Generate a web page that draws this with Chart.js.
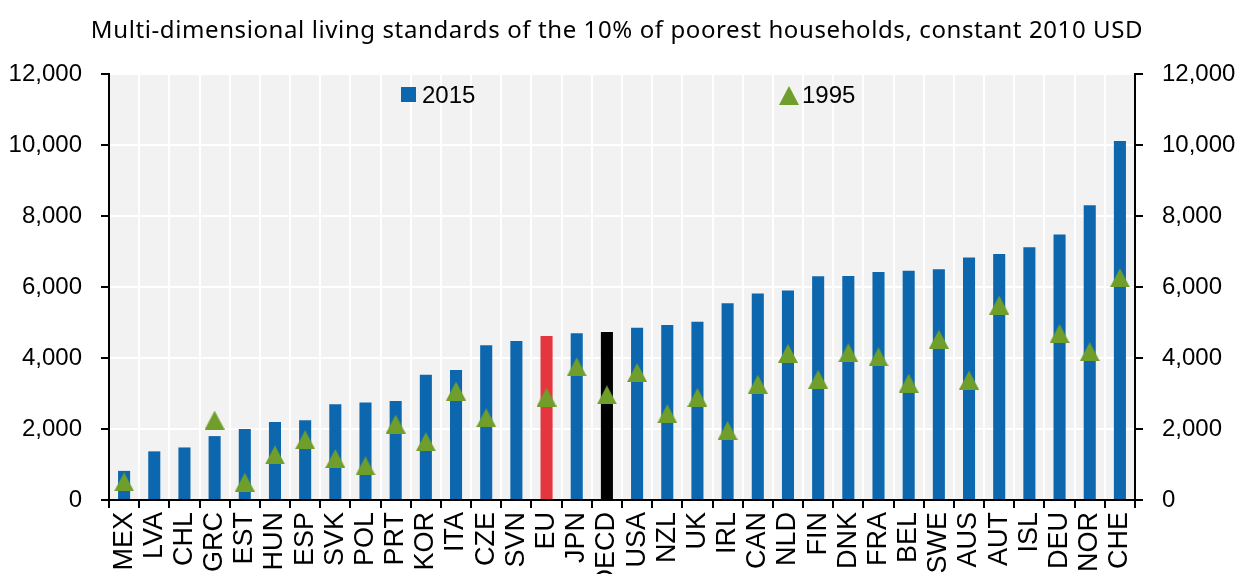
<!DOCTYPE html>
<html>
<head>
<meta charset="utf-8">
<script src="https://cdn.jsdelivr.net/npm/chart.js@4.4.1/dist/chart.umd.min.js"></script>
<style>
  html, body { margin: 0; padding: 0; background: #fff; }
  #wrap { width: 1237px; height: 574px; }
</style>
</head>
<body>
<div id="wrap"><canvas id="myChart" width="1237" height="574"></canvas></div>
<script>
// data
const countries = ['MEX', 'LVA', 'CHL', 'GRC', 'EST', 'HUN', 'ESP', 'SVK', 'POL', 'PRT', 'KOR', 'ITA', 'CZE', 'SVN', 'EU',
    'JPN', 'OECD', 'USA', 'NZL', 'UK', 'IRL', 'CAN', 'NLD', 'FIN', 'DNK', 'FRA', 'BEL', 'SWE', 'AUS', 'AUT', 'ISL', 'DEU', 'NOR', 'CHE'];
const values2015 = [820, 1370, 1480, 1800, 2000, 2200, 2250, 2700, 2750, 2790, 3530, 3660, 4360, 4480, 4620,
    4700, 4730, 4850, 4930, 5020, 5540, 5820, 5900, 6300, 6310, 6420, 6460, 6500, 6830, 6930, 7120, 7480, 8300, 10110];
const values1995 = [510, null, null, 2250, 500, 1270, 1700, 1170, 960, 2140, 1640, 3070, 2320, null, 2900,
    3750, 2960, 3590, 2430, 2890, 1960, 3260, 4130, 3400, 4150, 4030, 3290, 4530, 3380, 5490, null, 4690, 4180, 6260];
const yTicks = [0, 2000, 4000, 6000, 8000, 10000, 12000];
const titleText = 'Multi-dimensional living standards of the 10% of poorest households, constant 2010 USD';

const blue = '#0d67ae';
const green = '#6f9e2b';
const sans = "'Liberation Sans', Arial, sans-serif";

// bar colours: EU red, OECD black
const barColors = countries.map(c => c === 'EU' ? '#e5363f' : (c === 'OECD' ? '#000000' : blue));

// triangle marker, centred on its box like the original
const tri = document.createElement('canvas');
tri.width = 20; tri.height = 19;
const tc = tri.getContext('2d');
tc.fillStyle = green;
tc.beginPath();
tc.moveTo(10, 0); tc.lineTo(20, 19); tc.lineTo(0, 19);
tc.closePath();
tc.fill();

// grey plot background
const plotBg = {
    id: 'plotBg',
    beforeDraw(chart) {
        const a = chart.chartArea;
        const ctx = chart.ctx;
        ctx.save();
        ctx.fillStyle = '#f2f2f2';
        ctx.fillRect(a.left, a.top, a.right - a.left, a.bottom - a.top);
        ctx.restore();
    }
};

// title + legend inside the plot
const extras = {
    id: 'extras',
    afterDraw(chart) {
        const ctx = chart.ctx;
        ctx.save();
        ctx.fillStyle = '#000';
        ctx.font = "24px 'Noto Sans', sans-serif";
        ctx.letterSpacing = '0.6px';
        ctx.textAlign = 'center';
        ctx.textBaseline = 'alphabetic';
        ctx.fillText(titleText, 617, 38);
        ctx.letterSpacing = '0px';

        ctx.textAlign = 'left';
        ctx.textBaseline = 'middle';
        ctx.font = '24px ' + sans;
        ctx.fillStyle = blue;
        ctx.fillRect(401, 87, 15, 15);
        ctx.fillStyle = '#000';
        ctx.fillText('2015', 422, 96);
        ctx.drawImage(tri, 779, 86);
        ctx.fillText('1995', 802, 96);
        ctx.restore();
    }
};

const yAxisCommon = {
    min: 0,
    max: 12000,
    afterBuildTicks: s => { s.ticks = yTicks.map(v => ({ value: v })); },
    border: { color: '#000', width: 2 },
    ticks: {
        color: '#000',
        font: { family: sans, size: 24 },
        callback: v => v.toLocaleString('en-US')
    }
};

const config = {
    data: {
        labels: countries,
        datasets: [{
            type: 'line',
            label: '1995',
            data: values1995,
            showLine: false,
            pointStyle: tri,
            pointRadius: 10,
            backgroundColor: green,
            borderColor: green,
            order: 0
        }, {
            type: 'bar',
            label: '2015',
            data: values2015,
            backgroundColor: barColors,
            barPercentage: 0.4,
            categoryPercentage: 1,
            order: 1
        }]
    },
    options: {
        responsive: false,
        animation: false,
        layout: { padding: { top: 74 } },
        plugins: {
            legend: { display: false },
            tooltip: { enabled: false },
            title: { display: false }
        },
        scales: {
            x: {
                grid: { color: '#fff', lineWidth: 2, tickColor: '#000', tickLength: 8, offset: true },
                border: { color: '#000', width: 2 },
                ticks: {
                    color: '#000',
                    font: { family: sans, size: 27 },
                    maxRotation: 90,
                    minRotation: 90,
                    autoSkip: false,
                    padding: 4
                },
                afterFit: s => { s.height = 74; }
            },
            y: Object.assign({}, yAxisCommon, {
                position: 'left',
                grid: { color: '#fff', lineWidth: 2, tickColor: '#000', tickLength: 8 },
                ticks: Object.assign({}, yAxisCommon.ticks, { padding: 19 }),
                afterFit: s => { s.width = 109; }
            }),
            y2: Object.assign({}, yAxisCommon, {
                position: 'right',
                grid: { drawOnChartArea: false, color: '#000', lineWidth: 2, tickColor: '#000', tickLength: 8 },
                ticks: Object.assign({}, yAxisCommon.ticks, { padding: 19 }),
                afterFit: s => { s.width = 102; }
            })
        }
    },
    plugins: [plotBg, extras]
};

const myChart = new Chart(document.getElementById('myChart'), config);
</script>
</body>
</html>
